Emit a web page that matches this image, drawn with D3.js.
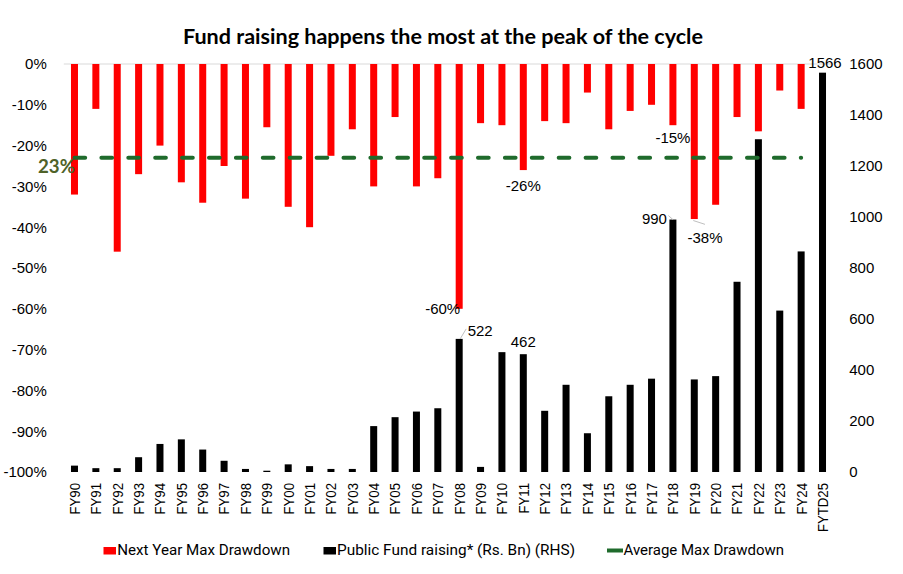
<!DOCTYPE html>
<html>
<head>
<meta charset="utf-8">
<script src="https://cdn.jsdelivr.net/npm/d3@7/dist/d3.min.js"></script>
<style>
  html, body { margin: 0; padding: 0; background: #fff; }
  svg { display: block; }
</style>
</head>
<body>
<svg id="chart" width="903" height="574"></svg>
<script>
// ---------- data ----------
const categories = ["FY90","FY91","FY92","FY93","FY94","FY95","FY96","FY97","FY98","FY99",
  "FY00","FY01","FY02","FY03","FY04","FY05","FY06","FY07","FY08","FY09",
  "FY10","FY11","FY12","FY13","FY14","FY15","FY16","FY17","FY18","FY19",
  "FY20","FY21","FY22","FY23","FY24","FYTD25"];
// Next Year Max Drawdown (%), null = no bar
const drawdown = [-32,-11,-46,-27,-20,-29,-34,-25,-33,-15.5,
  -35,-40,-22.5,-16,-30,-13,-30,-28,-60,-14.5,
  -15,-26,-14,-14.5,-7,-16,-11.5,-10,-15,-38,
  -34.5,-13,-16.5,-6.5,-11,null];
// Public Fund raising (Rs. Bn)
const fundRaising = [25,15,15,58,110,128,88,44,12,5,
  30,23,12,12,180,215,237,250,522,20,
  470,462,240,342,152,297,342,366,990,363,
  376,746,1305,633,865,1566];
const averageDrawdown = -23;
const leftTicks = [0,-10,-20,-30,-40,-50,-60,-70,-80,-90,-100];
const rightTicks = [0,200,400,600,800,1000,1200,1400,1600];
const titleText = "Fund raising happens the most at the peak of the cycle";
const legendLabels = ["Next Year Max Drawdown","Public Fund raising* (Rs. Bn) (RHS)","Average Max Drawdown"];
// labelled points
const barLabels = [{cat:"FY08",v:522},{cat:"FY11",v:462},{cat:"FY18",v:990},{cat:"FYTD25",v:1566}];
const ddLabels = [{cat:"FY08",v:-60},{cat:"FY11",v:-26},{cat:"FY18",v:-15},{cat:"FY19",v:-38}];

// ---------- layout ----------
const svg = d3.select("#chart");
const plotL = 63.8, plotR = 833.2, plotT = 64, plotB = 472;
const RED = "#ff0000", BLACK = "#000000", GREEN = "#1f6b2c";
const FONT = "'Liberation Sans', Arial, sans-serif";

const x = d3.scaleBand().domain(categories).range([plotL, plotR])
  .paddingInner(0.66).paddingOuter(0.33);
const cx = c => x(c) + x.bandwidth() / 2;
const yL = d3.scaleLinear().domain([-100, 0]).range([plotB, plotT]);
const yR = d3.scaleLinear().domain([0, 1600]).range([plotB, plotT]);
const barW = 7;

// title
svg.append("text")
  .attr("x", 443).attr("y", 44)
  .attr("text-anchor", "middle")
  .attr("font-family", "Lato, 'Open Sans', sans-serif")
  .attr("font-weight", "bold").attr("font-size", 20)
  .attr("textLength", 520).attr("lengthAdjust", "spacingAndGlyphs")
  .text(titleText);

// zero gridline
svg.append("line")
  .attr("x1", plotL).attr("x2", plotR)
  .attr("y1", yL(0)).attr("y2", yL(0))
  .attr("stroke", "#d9d9d9").attr("stroke-width", 1);

// left axis
const axL = svg.append("g").attr("transform", `translate(${plotL},0)`)
  .call(d3.axisLeft(yL).tickValues(leftTicks).tickSize(0).tickPadding(17)
    .tickFormat(d => d + "%"));
axL.select(".domain").remove();
axL.selectAll("text").attr("font-family", FONT).attr("font-size", 15).attr("fill", "#000");

// right axis
const axR = svg.append("g").attr("transform", `translate(${plotR},0)`)
  .call(d3.axisRight(yR).tickValues(rightTicks).tickSize(0).tickPadding(16)
    .tickFormat(d3.format("d")));
axR.select(".domain").remove();
axR.selectAll("text").attr("font-family", FONT).attr("font-size", 15).attr("fill", "#000");

// x axis labels (rotated, slightly condensed)
const axX = svg.append("g");
axX.selectAll("text").data(categories).join("text")
  .attr("transform", d => `translate(${cx(d)},${483}) rotate(-90) scale(0.88,1)`)
  .attr("text-anchor", "end")
  .attr("dy", "0.36em")
  .attr("font-family", FONT).attr("font-size", 15)
  .text(d => d);

// red bars
svg.append("g").selectAll("rect")
  .data(categories.map((c, i) => ({c, v: drawdown[i]})).filter(d => d.v !== null))
  .join("rect")
  .attr("x", d => cx(d.c) - barW / 2)
  .attr("y", yL(0))
  .attr("width", barW)
  .attr("height", d => yL(d.v) - yL(0))
  .attr("fill", RED);

// black bars
svg.append("g").selectAll("rect")
  .data(categories.map((c, i) => ({c, v: fundRaising[i]})))
  .join("rect")
  .attr("x", d => cx(d.c) - barW / 2)
  .attr("y", d => yR(d.v))
  .attr("width", barW)
  .attr("height", d => yR(0) - yR(d.v))
  .attr("fill", BLACK);

// average line
svg.append("line")
  .attr("x1", cx("FY90")).attr("x2", cx("FY24"))
  .attr("y1", yL(averageDrawdown)).attr("y2", yL(averageDrawdown))
  .attr("stroke", GREEN).attr("stroke-width", 4)
  .attr("stroke-linecap", "round")
  .attr("stroke-dasharray", "10.7,16.2");

// 23% label
svg.append("text")
  .attr("x", 38).attr("y", yL(averageDrawdown) + 15)
  .attr("font-family", "Lato, 'Open Sans', sans-serif")
  .attr("font-weight", "bold").attr("font-size", 19)
  .attr("fill", "#4f6228")
  .attr("textLength", 37).attr("lengthAdjust", "spacingAndGlyphs")
  .text(Math.abs(averageDrawdown) + "%");

// data labels
const lab = svg.append("g").attr("font-family", FONT).attr("font-size", 15).attr("fill", "#000");
const leader = svg.append("g").attr("stroke", "#bfbfbf").attr("stroke-width", 1).attr("fill", "none");

const fmtPos = {
  "FY08": {dx: 8.5, dy: -3, anchor: "start"},
  "FY11": {dx: 0, dy: -7, anchor: "middle"},
  "FY18": {dx: -6, dy: 4, anchor: "end"},
  "FYTD25": {dx: 2.5, dy: -4.5, anchor: "middle"}
};
barLabels.forEach(d => {
  const p = fmtPos[d.cat];
  lab.append("text")
    .attr("x", cx(d.cat) + p.dx).attr("y", yR(d.v) + p.dy)
    .attr("text-anchor", p.anchor).text(d.v);
});
const ddPos = {
  "FY08": {dx: 1, dy: 5.5, anchor: "end"},
  "FY11": {dx: 0, dy: 20.5, anchor: "middle"},
  "FY18": {dx: 0, dy: 17.5, anchor: "middle"},
  "FY19": {dx: 10.7, dy: 24, anchor: "middle"}
};
ddLabels.forEach(d => {
  const p = ddPos[d.cat];
  lab.append("text")
    .attr("x", cx(d.cat) + p.dx).attr("y", yL(d.v) + p.dy)
    .attr("text-anchor", p.anchor).text(d.v + "%");
});
// leader lines
leader.append("line")
  .attr("x1", cx("FY08") + 1).attr("y1", yR(522))
  .attr("x2", cx("FY08") + 7).attr("y2", yR(522) - 10);
leader.append("line")
  .attr("x1", cx("FY18") - 4.5).attr("y1", yR(990) - 4)
  .attr("x2", cx("FY18")).attr("y2", yR(990));
leader.append("line")
  .attr("x1", cx("FY19") - 1).attr("y1", yL(-38) + 1.5)
  .attr("x2", cx("FY19") + 10.7).attr("y2", yL(-38) + 5.3);

// legend
const lg = svg.append("g");
lg.append("rect").attr("x", 103.5).attr("y", 547).attr("width", 12.5).attr("height", 7.5).attr("fill", RED);
lg.append("rect").attr("x", 323.5).attr("y", 547).attr("width", 12.5).attr("height", 7.5).attr("fill", BLACK);
lg.append("line").attr("x1", 607).attr("x2", 623).attr("y1", 550.5).attr("y2", 550.5)
  .attr("stroke", GREEN).attr("stroke-width", 4);
const legPos = [{x: 117.3, w: 172.7}, {x: 337, w: 238}, {x: 623.5, w: 160.5}];
legendLabels.forEach((t, i) => {
  lg.append("text")
    .attr("x", legPos[i].x).attr("y", 555)
    .attr("font-family", "Roboto, 'Liberation Sans', sans-serif")
    .attr("font-size", 15)
    .attr("textLength", legPos[i].w).attr("lengthAdjust", "spacingAndGlyphs")
    .text(t);
});
</script>
</body>
</html>
